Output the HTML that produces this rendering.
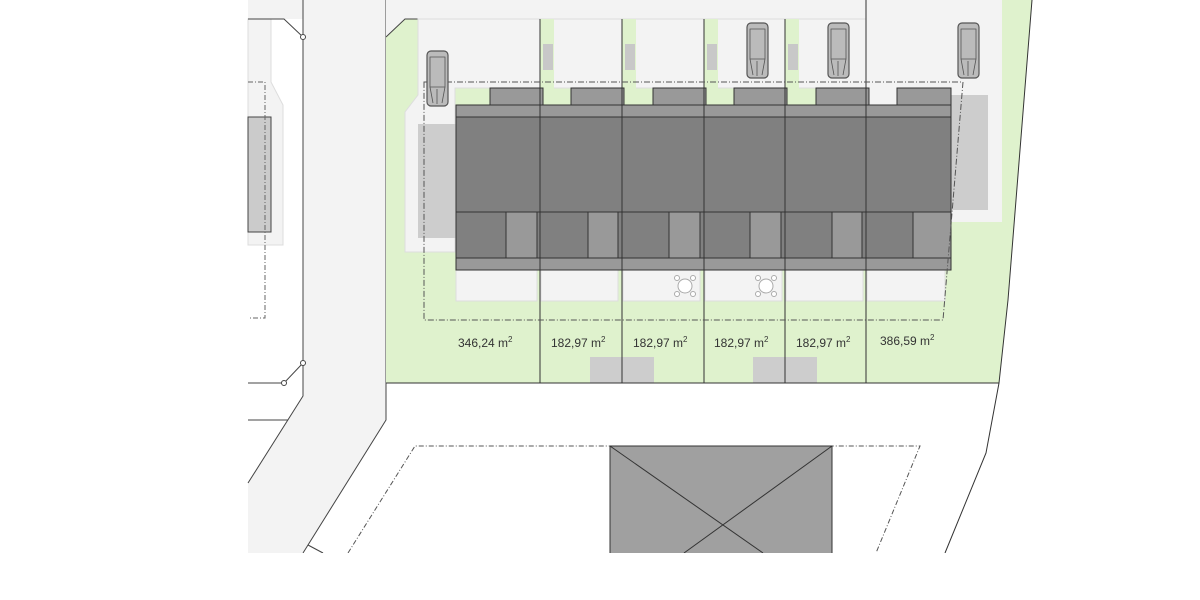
<!DOCTYPE html>
<html><head><meta charset="utf-8"><style>html,body{margin:0;padding:0;background:#fff}svg{display:block}text{font-family:"Liberation Sans",sans-serif;font-size:12px;fill:#333}</style></head><body>
<svg width="1200" height="600" viewBox="0 0 1200 600" xmlns="http://www.w3.org/2000/svg">
<rect width="1200" height="600" fill="#fff"/>
<!-- left area -->
<rect x="248" y="0" width="55" height="19" fill="#f3f3f3"/>
<polygon points="248,19 271,19 271,82 283,105 283,245 248,245" fill="#f3f3f3" stroke="#ddd" stroke-width="1"/>
<rect x="248" y="117" width="23" height="115" fill="#cbcbcb" stroke="#444" stroke-width="1"/>
<polyline points="248,82 265,82 265,318 248,318" fill="none" stroke="#666" stroke-dasharray="5,2,1,2"/>
<polyline points="248,19 284,19 303,37" fill="none" stroke="#444" stroke-width="1"/>
<!-- road -->
<polygon points="303,0 386,0 386,420 303,553 248,553 248,483 303,396" fill="#f3f3f3"/>
<polyline points="303,0 303,396 248,483" fill="none" stroke="#444"/>
<polyline points="386,0 386,420 303,553" fill="none" stroke="#444"/>
<line x1="248" y1="383" x2="284" y2="383" stroke="#444"/>
<line x1="284" y1="383" x2="303" y2="363" stroke="#444"/>
<line x1="248" y1="420" x2="288" y2="420" stroke="#444"/>
<line x1="308" y1="545" x2="323" y2="553" stroke="#444"/>
<circle cx="303" cy="37" r="2.5" fill="#fff" stroke="#444"/>
<circle cx="303" cy="363" r="2.5" fill="#fff" stroke="#444"/>
<circle cx="284" cy="383" r="2.5" fill="#fff" stroke="#444"/>
<!-- green parcel -->
<polygon points="386,0 1032,0 1008,300 999,383 386,383" fill="#dff2cd"/>
<polygon points="386,0 866,0 866,19 405,19 386,37" fill="#f3f3f3"/>
<polyline points="386,37 405,19 866,19" fill="none" stroke="#444"/>
<rect x="866" y="0" width="136" height="222" fill="#f3f3f3"/>
<polygon points="418,19 866,19 866,88 455,88 455,252 405,252 405,112 418,95" fill="#f3f3f3" stroke="#ddd"/>
<g fill="#dff2cd"><rect x="540" y="19" width="14" height="70"/><rect x="622" y="19" width="14" height="70"/><rect x="704" y="19" width="14" height="70"/><rect x="785" y="19" width="14" height="70"/></g>
<g fill="#c8c8c8"><rect x="543" y="44" width="10" height="26"/><rect x="625" y="44" width="10" height="26"/><rect x="707" y="44" width="10" height="26"/><rect x="788" y="44" width="10" height="26"/></g>
<rect x="418" y="124" width="38" height="114" fill="#cdcdcd"/>
<rect x="951" y="95" width="37" height="115" fill="#cdcdcd"/>
<!-- terraces -->
<g fill="#f3f3f3" stroke="#ddd"><rect x="456" y="270" width="81" height="31"/><rect x="541" y="270" width="77" height="31"/><rect x="623" y="270" width="77" height="31"/><rect x="705" y="270" width="77" height="31"/><rect x="786" y="270" width="77" height="31"/><rect x="867" y="270" width="78" height="31"/></g>
<!-- bottom parking -->
<rect x="590" y="357" width="64" height="26" fill="#cdcdcd"/>
<rect x="753" y="357" width="64" height="26" fill="#cdcdcd"/>
<!-- building -->
<g stroke="#333" stroke-width="1">
<rect x="490" y="88" width="53" height="17" fill="#999"/><rect x="571" y="88" width="53" height="17" fill="#999"/><rect x="653" y="88" width="53" height="17" fill="#999"/><rect x="734" y="88" width="53" height="17" fill="#999"/><rect x="816" y="88" width="53" height="17" fill="#999"/><rect x="897" y="88" width="54" height="17" fill="#999"/>
<rect x="456" y="105" width="495" height="12" fill="#999"/>
<rect x="456" y="117" width="495" height="95" fill="#808080"/>
<rect x="456" y="212" width="495" height="46" fill="#808080"/>
<rect x="456" y="258" width="495" height="12" fill="#999"/>
<rect x="506" y="212" width="31" height="46" fill="#999"/><rect x="588" y="212" width="30" height="46" fill="#999"/><rect x="669" y="212" width="31" height="46" fill="#999"/><rect x="750" y="212" width="31" height="46" fill="#999"/><rect x="832" y="212" width="30" height="46" fill="#999"/><rect x="913" y="212" width="38" height="46" fill="#999"/>
</g>
<!-- dividers -->
<g stroke="#333"><line x1="540" y1="19" x2="540" y2="383"/><line x1="622" y1="19" x2="622" y2="383"/><line x1="704" y1="19" x2="704" y2="383"/><line x1="785" y1="19" x2="785" y2="383"/><line x1="866" y1="0" x2="866" y2="383"/></g>
<line x1="386" y1="383" x2="999" y2="383" stroke="#333"/>
<polyline points="1032,0 1008,300 999,383 986,453 945,553" fill="none" stroke="#333"/>
<!-- dashed building line -->
<polygon points="424,82 963,82 943,320 424,320" fill="none" stroke="#555" stroke-dasharray="6,2,1,2"/>
<!-- tables -->
<g fill="#fff" stroke="#aaa"><circle cx="685" cy="286" r="7"/><circle cx="677" cy="278" r="2.5"/><circle cx="693" cy="278" r="2.5"/><circle cx="677" cy="294" r="2.5"/><circle cx="693" cy="294" r="2.5"/>
<circle cx="766" cy="286" r="7"/><circle cx="758" cy="278" r="2.5"/><circle cx="774" cy="278" r="2.5"/><circle cx="758" cy="294" r="2.5"/><circle cx="774" cy="294" r="2.5"/></g>
<!-- cars -->
<g fill="#bbb" stroke="#555" stroke-width="1.2">
<rect x="427" y="51" width="21" height="55" rx="4"/><rect x="747" y="23" width="21" height="55" rx="4"/><rect x="828" y="23" width="21" height="55" rx="4"/><rect x="958" y="23" width="21" height="55" rx="4"/>
</g>
<g fill="none" stroke="#555" stroke-width="0.8">
<path d="M430 57h15v30h-15zM430 87l3 16M445 87l-3 16M437 89v15"/>
<path d="M750 29h15v30h-15zM750 59l3 16M765 59l-3 16M757 61v15"/>
<path d="M831 29h15v30h-15zM831 59l3 16M846 59l-3 16M838 61v15"/>
<path d="M961 29h15v30h-15zM961 59l3 16M976 59l-3 16M968 61v15"/>
</g>
<!-- lower parcel -->
<polyline points="348,553 415,446 920,446 876,553" fill="none" stroke="#555" stroke-dasharray="5,2,1,2"/>
<rect x="610" y="446" width="222" height="108" fill="#a0a0a0" stroke="#333"/>
<line x1="610" y1="446" x2="763" y2="553" stroke="#333"/>
<line x1="832" y1="446" x2="684" y2="553" stroke="#333"/>
<rect x="248" y="553" width="952" height="47" fill="#fff"/>
<!-- labels -->
<text x="458" y="347">346,24 m<tspan dy="-5" font-size="8">2</tspan></text>
<text x="551" y="347">182,97 m<tspan dy="-5" font-size="8">2</tspan></text>
<text x="633" y="347">182,97 m<tspan dy="-5" font-size="8">2</tspan></text>
<text x="714" y="347">182,97 m<tspan dy="-5" font-size="8">2</tspan></text>
<text x="796" y="347">182,97 m<tspan dy="-5" font-size="8">2</tspan></text>
<text x="880" y="345">386,59 m<tspan dy="-5" font-size="8">2</tspan></text>
</svg>
</body></html>
